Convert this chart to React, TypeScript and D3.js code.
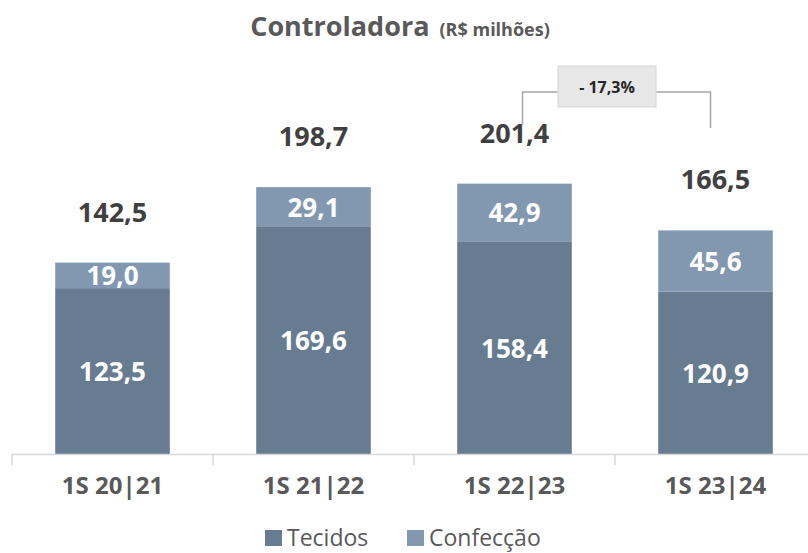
import React from "react";
import * as d3 from "d3";

const categories = ["1S 20|21", "1S 21|22", "1S 22|23", "1S 23|24"];
const tecidos = [123.5, 169.6, 158.4, 120.9];
const confeccao = [19.0, 29.1, 42.9, 45.6];
const totals = [142.5, 198.7, 201.4, 166.5];
const seriesNames = ["Tecidos", "Confecção"];
const changeLabel = "- 17,3%";

const W = 808;
const H = 553;
const FONT = "'Open Sans', 'Noto Sans', sans-serif";
const colors = ["#677b91", "#8298b1"];

const fmt = (v: number) => v.toFixed(1).replace(".", ",");

const App = () => {
  const x = d3.scaleBand<string>().domain(categories).range([12, 816]).paddingInner(0.43).paddingOuter(0.215);
  const y = d3.scaleLinear().domain([0, 220]).range([454, 454 - 220 * 1.343]);
  const step = x.step();
  const gap = (step - x.bandwidth()) / 2;

  const rows = categories.map((c, i) => ({ cat: c, Tecidos: tecidos[i], "Confecção": confeccao[i] }));
  const stacked = d3.stack<any>().keys(seriesNames)(rows);

  const cx = (i: number) => (x(categories[i]) as number) + x.bandwidth() / 2;

  // bracket between the last two bars
  const leftX = cx(2) + 8;
  const rightX = cx(3) - 5;
  const boxX0 = 558;
  const boxX1 = 656;
  const boxY0 = 66;
  const boxY1 = 107;
  const lineY = 92;

  return (
    <svg width={W} height={H} style={{ position: "absolute", left: 0, top: 0, background: "#fff" }}>
      {/* title */}
      <text x={400} y={36} textAnchor="middle" fontFamily={FONT} fill="#595959" fontWeight="bold">
        <tspan fontSize={27}>Controladora</tspan>
        <tspan fontSize={18} dx={10}>(R$ milhões)</tspan>
      </text>

      {/* bars */}
      {stacked.map((s, si) => (
        <g key={s.key}>
          {s.map((d, i) => (
            <rect
              key={i}
              x={x(categories[i])}
              width={x.bandwidth()}
              y={y(d[1])}
              height={y(d[0]) - y(d[1])}
              fill={colors[si]}
            />
          ))}
          {s.map((d, i) => (
            <text
              key={"l" + i}
              x={cx(i)}
              y={(y(d[0]) + y(d[1])) / 2 + 10}
              textAnchor="middle"
              fontFamily={FONT}
              fontWeight="bold"
              fontSize={26}
              fill="#ffffff"
            >
              {fmt(d[1] - d[0])}
            </text>
          ))}
        </g>
      ))}

      {/* totals */}
      {totals.map((t, i) => (
        <text
          key={i}
          x={cx(i)}
          y={y(tecidos[i] + confeccao[i]) - 41}
          textAnchor="middle"
          fontFamily={FONT}
          fontWeight="bold"
          fontSize={27}
          fill="#404040"
        >
          {fmt(t)}
        </text>
      ))}

      {/* axis */}
      <line x1={12} x2={W} y1={y(0) + 0.5} y2={y(0) + 0.5} stroke="#d9d9d9" strokeWidth={1.5} />
      {categories.map((c, i) => (
        <line
          key={"t" + i}
          x1={(x(c) as number) - gap}
          x2={(x(c) as number) - gap}
          y1={y(0)}
          y2={y(0) + 11}
          stroke="#d9d9d9"
          strokeWidth={1.5}
        />
      ))}
      {categories.map((c, i) => (
        <text
          key={"c" + i}
          x={cx(i)}
          y={494}
          textAnchor="middle"
          fontFamily={FONT}
          fontWeight="bold"
          fontSize={24}
          fill="#595959"
        >
          {c}
        </text>
      ))}

      {/* change annotation */}
      <path
        d={`M${leftX},125 V${lineY} H${boxX0} M${boxX1},${lineY} H${rightX} V128`}
        fill="none"
        stroke="#a6a6a6"
        strokeWidth={1.5}
      />
      <rect x={boxX0} y={boxY0} width={boxX1 - boxX0} height={boxY1 - boxY0} fill="#e7e7e7" stroke="#d6d6d6" strokeWidth={1} />
      <text
        x={(boxX0 + boxX1) / 2}
        y={(boxY0 + boxY1) / 2 + 6}
        textAnchor="middle"
        fontFamily={FONT}
        fontWeight="bold"
        fontSize={16}
        fill="#262626"
      >
        {changeLabel}
      </text>

      {/* legend */}
      {seriesNames.map((n, i) => {
        const lx = [265, 407][i];
        return (
          <g key={n}>
            <rect x={lx} y={530} width={17} height={16} fill={colors[i]} />
            <text x={lx + 22} y={546} fontFamily={FONT} fontSize={23} fill="#595959">
              {n}
            </text>
          </g>
        );
      })}
    </svg>
  );
};

export default App;
